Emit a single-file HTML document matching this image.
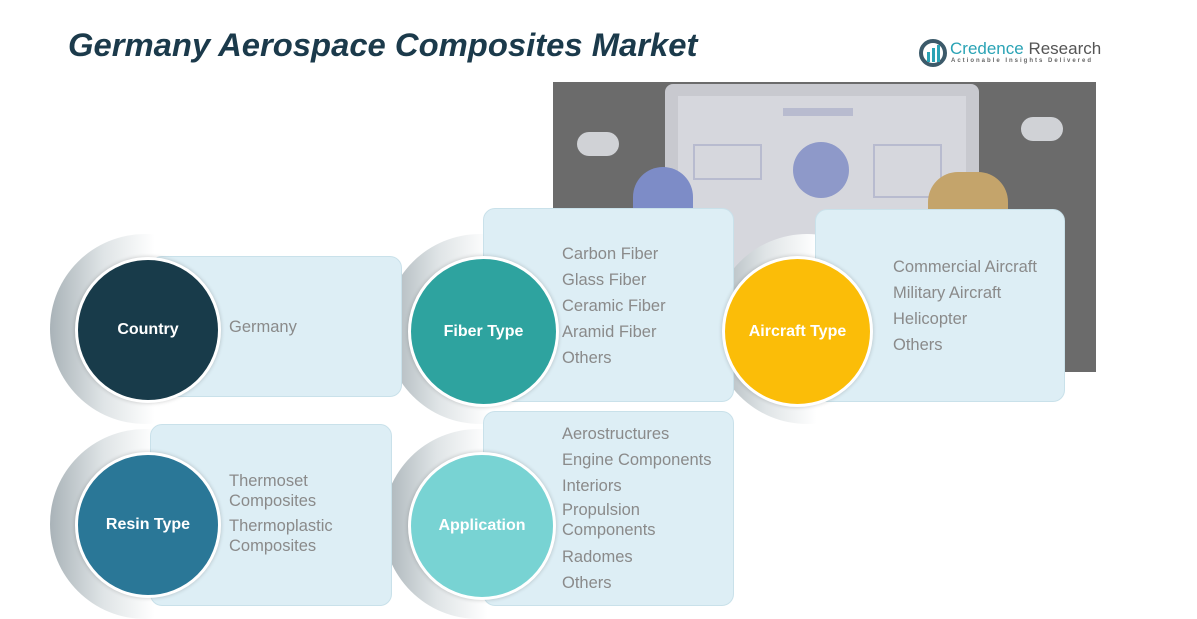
<!DOCTYPE html>
<html><head><style>
body{margin:0;width:1197px;height:611px;background:#fff;position:relative;overflow:hidden;font-family:"Liberation Sans",sans-serif}
.abs{position:absolute}
.ring{position:absolute;border-radius:50%;width:190px;height:190px;background:linear-gradient(90deg,#a9b3b8 0%,#dfe4e6 28%,#fff 55%)}
.panel{position:absolute;background:#ddeef5;border:1.5px solid #c9e1ea;border-radius:12px}
.c{position:absolute;border-radius:50%;border:3px solid #fff;color:#fff;font-weight:bold;font-size:16px;display:flex;align-items:center;justify-content:center;box-shadow:0 0 4px rgba(0,0,0,.2)}
.t{position:absolute;color:#8a8a8a;font-size:16.5px;line-height:26px}
</style></head><body>
<div class="abs" style="left:68px;top:26px;font-size:32.8px;font-weight:bold;font-style:italic;color:#1b3a4b">Germany Aerospace Composites Market</div>
<svg class="abs" style="left:918px;top:38px" width="30" height="30"><circle cx="15" cy="15" r="12" fill="none" stroke="#3c5a6a" stroke-width="4"/><rect x="9" y="14" width="3" height="10" fill="#2aa3b5"/><rect x="14" y="10" width="3" height="14" fill="#2aa3b5"/><rect x="19" y="7" width="3" height="17" fill="#2aa3b5"/></svg>
<div class="abs" style="left:950px;top:39px;font-size:17px;color:#2aa3b5">Credence <span style="color:#555">Research</span></div>
<div class="abs" style="left:951px;top:58px;font-size:6px;letter-spacing:2px;color:#666;font-weight:bold">Actionable Insights Delivered</div>
<div class="abs" style="left:553px;top:82px;width:543px;height:290px;background:#6b6b6b;overflow:hidden">
<div class="abs" style="left:112px;top:2px;width:314px;height:300px;background:#c8c9cf;border-radius:8px"></div>
<div class="abs" style="left:125px;top:14px;width:288px;height:290px;background:#d6d7dd"></div>
<div class="abs" style="left:230px;top:26px;width:70px;height:8px;background:#b8bbcf"></div>
<div class="abs" style="left:240px;top:60px;width:56px;height:56px;border-radius:50%;background:#8e99c9"></div>
<div class="abs" style="left:140px;top:62px;width:65px;height:32px;border:2px solid #b8bbcf"></div>
<div class="abs" style="left:320px;top:62px;width:65px;height:50px;border:2px solid #b8bbcf"></div>
<div class="abs" style="left:80px;top:85px;width:60px;height:60px;border-radius:30px 30px 0 0;background:#7d8cc7"></div>
<div class="abs" style="left:375px;top:90px;width:80px;height:60px;border-radius:30px 30px 0 0;background:#c4a46b"></div>
<div class="abs" style="left:24px;top:50px;width:42px;height:24px;border-radius:12px;background:#d0d2d6"></div>
<div class="abs" style="left:468px;top:35px;width:42px;height:24px;border-radius:12px;background:#d0d2d6"></div>
</div>

<div class="ring" style="left:50px;top:234px"></div>
<div class="ring" style="left:385px;top:234px"></div>
<div class="ring" style="left:712px;top:234px"></div>
<div class="ring" style="left:50px;top:429px"></div>
<div class="ring" style="left:383px;top:429px"></div>

<div class="panel" style="left:150px;top:256px;width:250px;height:139px"></div>
<div class="panel" style="left:483px;top:208px;width:249px;height:192px"></div>
<div class="panel" style="left:815px;top:209px;width:248px;height:191px"></div>
<div class="panel" style="left:150px;top:424px;width:240px;height:180px"></div>
<div class="panel" style="left:483px;top:411px;width:249px;height:193px"></div>

<div class="c" style="left:75px;top:257px;width:140px;height:140px;background:#183b4a">Country</div>
<div class="c" style="left:408px;top:256px;width:145px;height:145px;background:#2ea39f">Fiber Type</div>
<div class="c" style="left:722px;top:256px;width:145px;height:145px;background:#fbbd08">Aircraft Type</div>
<div class="c" style="left:75px;top:452px;width:140px;height:140px;background:#2a7797">Resin Type</div>
<div class="c" style="left:408px;top:452px;width:142px;height:142px;background:#78d3d3">Application</div>

<div class="t" style="left:229px;top:314px">Germany</div>
<div class="t" style="left:562px;top:241px">Carbon Fiber<br>Glass Fiber<br>Ceramic Fiber<br>Aramid Fiber<br>Others</div>
<div class="t" style="left:893px;top:254px">Commercial Aircraft<br>Military Aircraft<br>Helicopter<br>Others</div>
<div class="t" style="left:229px;top:472px;line-height:19.5px">Thermoset<br>Composites</div>
<div class="t" style="left:229px;top:517px;line-height:19.5px">Thermoplastic<br>Composites</div>
<div class="t" style="left:562px;top:421px">Aerostructures<br>Engine Components<br>Interiors</div>
<div class="t" style="left:562px;top:501px;line-height:19.5px">Propulsion<br>Components</div>
<div class="t" style="left:562px;top:544px">Radomes<br>Others</div>
</body></html>
